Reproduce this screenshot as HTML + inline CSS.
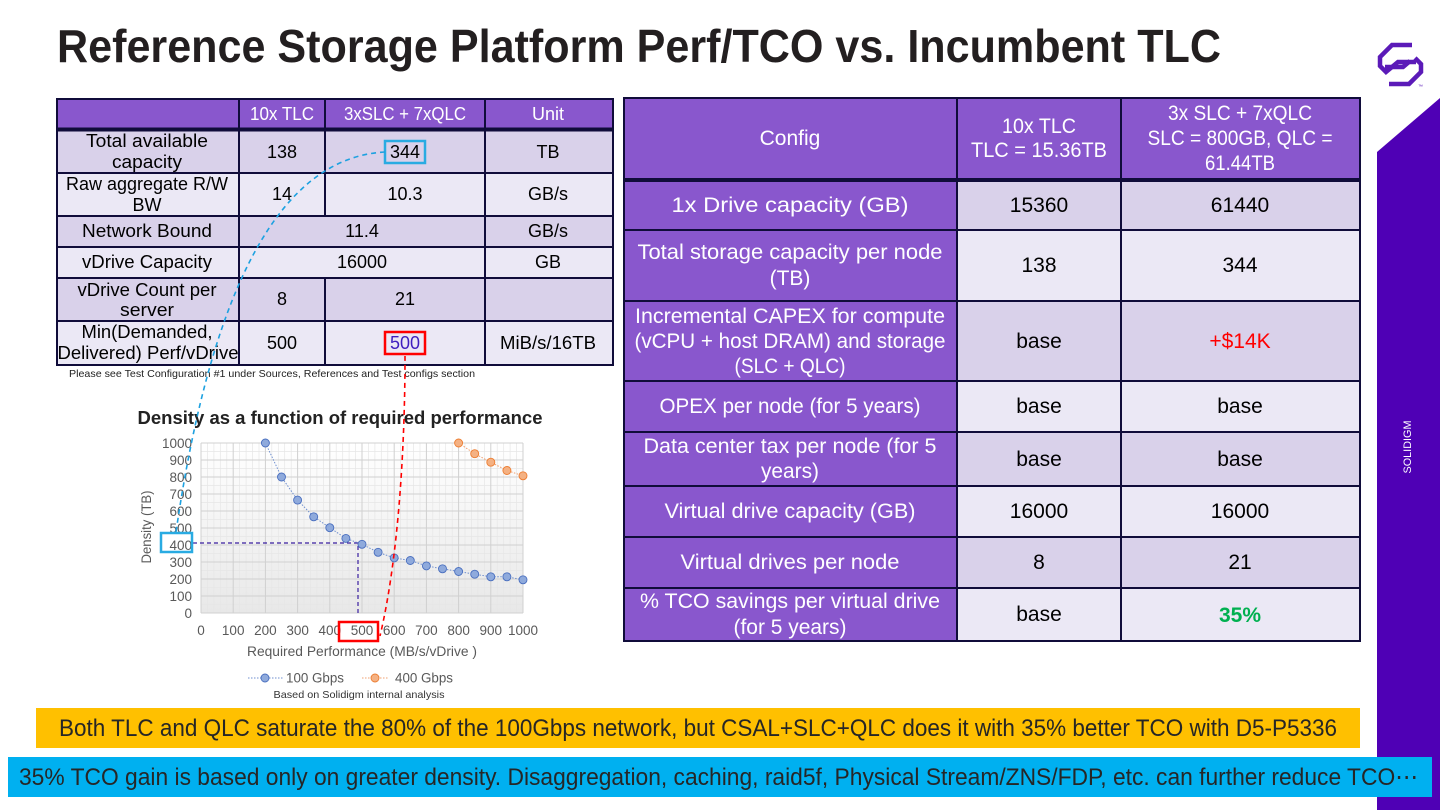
<!DOCTYPE html>
<html><head><meta charset="utf-8"><style>
html,body{margin:0;padding:0;background:#fff;}
svg{display:block;}
text{font-family:"Liberation Sans",sans-serif;}
.w{fill:#fff;}
.rt{font-size:21px;text-anchor:middle;}
.lt{font-size:18px;text-anchor:middle;}
.ax{font-size:13.5px;fill:#595959;}
</style></head><body>
<svg width="1440" height="810" viewBox="0 0 1440 810" xmlns="http://www.w3.org/2000/svg">
<defs>
<linearGradient id="pg" x1="0" y1="0" x2="0" y2="1">
<stop offset="0" stop-color="#ffffff"/><stop offset="1" stop-color="#e8e8e8"/>
</linearGradient>
</defs>
<rect width="1440" height="810" fill="#fff"/>

<!-- Title -->
<text x="57" y="62" font-size="46" font-weight="bold" fill="#231f20" textLength="1164" lengthAdjust="spacingAndGlyphs">Reference Storage Platform Perf/TCO vs. Incumbent TLC</text>

<!-- Purple band & logo -->
<polygon points="1377,152 1440,98 1440,810 1377,810" fill="#4f00b5"/>
<g fill="none" stroke="#5b1ab8" stroke-width="4.5" stroke-linejoin="miter">
<path d="M1412,45 L1392,45 L1380,57 L1380,66 L1386,72 L1398,62 L1416,62"/>
<path d="M1389,84 L1409,84 L1421,72 L1421,64 L1415,58"/>
<path d="M1385,67 L1403,67 L1410,61"/>
</g>
<text x="1418" y="88" font-size="5" fill="#5b1ab8">™</text>
<text transform="translate(1411,447) rotate(-90)" font-size="11" class="w" text-anchor="middle" textLength="53" lengthAdjust="spacingAndGlyphs">SOLIDIGM</text>

<!-- LEFT TABLE -->
<g>
<rect x="57" y="99" width="556" height="30" fill="#8957cd"/>
<rect x="57" y="129" width="556" height="44" fill="#d9d1ea"/>
<rect x="57" y="173" width="556" height="43" fill="#ebe8f5"/>
<rect x="57" y="216" width="556" height="31" fill="#d9d1ea"/>
<rect x="57" y="247" width="556" height="31" fill="#ebe8f5"/>
<rect x="57" y="278" width="556" height="43" fill="#d9d1ea"/>
<rect x="57" y="321" width="556" height="44" fill="#ebe8f5"/>
<g stroke="#100c3a" stroke-width="2" fill="none">
<rect x="57" y="99" width="556" height="266"/>
<line x1="57" y1="173" x2="613" y2="173"/>
<line x1="57" y1="216" x2="613" y2="216"/>
<line x1="57" y1="247" x2="613" y2="247"/>
<line x1="57" y1="278" x2="613" y2="278"/>
<line x1="57" y1="321" x2="613" y2="321"/>
<line x1="239" y1="99" x2="239" y2="365"/>
<line x1="325" y1="99" x2="325" y2="216"/>
<line x1="325" y1="278" x2="325" y2="365"/>
<line x1="485" y1="99" x2="485" y2="365"/>
</g>
<line x1="57" y1="129.5" x2="613" y2="129.5" stroke="#100c3a" stroke-width="4"/>
<text class="lt w" x="282" y="120" textLength="64" lengthAdjust="spacingAndGlyphs">10x TLC</text>
<text class="lt w" x="405" y="120" textLength="122" lengthAdjust="spacingAndGlyphs">3xSLC + 7xQLC</text>
<text class="lt w" x="548" y="120">Unit</text>

<text class="lt" x="147" y="147" textLength="122" lengthAdjust="spacingAndGlyphs">Total available</text>
<text class="lt" x="147" y="168" textLength="70" lengthAdjust="spacingAndGlyphs">capacity</text>
<text class="lt" x="282" y="158">138</text>
<text class="lt" x="405" y="158">344</text>
<text class="lt" x="548" y="158">TB</text>

<text class="lt" x="147" y="190" textLength="162" lengthAdjust="spacingAndGlyphs">Raw aggregate R/W</text>
<text class="lt" x="147" y="211">BW</text>
<text class="lt" x="282" y="200">14</text>
<text class="lt" x="405" y="200">10.3</text>
<text class="lt" x="548" y="200">GB/s</text>

<text class="lt" x="147" y="237" textLength="130" lengthAdjust="spacingAndGlyphs">Network Bound</text>
<text class="lt" x="362" y="237">11.4</text>
<text class="lt" x="548" y="237">GB/s</text>

<text class="lt" x="147" y="268" textLength="130" lengthAdjust="spacingAndGlyphs">vDrive Capacity</text>
<text class="lt" x="362" y="268">16000</text>
<text class="lt" x="548" y="268">GB</text>

<text class="lt" x="147" y="296" textLength="139" lengthAdjust="spacingAndGlyphs">vDrive Count per</text>
<text class="lt" x="147" y="316" textLength="54" lengthAdjust="spacingAndGlyphs">server</text>
<text class="lt" x="282" y="305">8</text>
<text class="lt" x="405" y="305">21</text>

<text class="lt" x="147" y="338" textLength="131" lengthAdjust="spacingAndGlyphs">Min(Demanded,</text>
<text class="lt" x="148" y="359" textLength="181" lengthAdjust="spacingAndGlyphs">Delivered) Perf/vDrive</text>
<text class="lt" x="282" y="349">500</text>
<text class="lt" x="405" y="349" fill="#3f1fbf">500</text>
<text class="lt" x="548" y="349" textLength="96" lengthAdjust="spacingAndGlyphs">MiB/s/16TB</text>

<rect x="385" y="141" width="40" height="22" fill="none" stroke="#29abe2" stroke-width="2.5"/>
<rect x="385" y="332" width="40" height="22" fill="none" stroke="#ff0000" stroke-width="2.5"/>
<text x="69" y="377" font-size="10.5" fill="#222" textLength="406" lengthAdjust="spacingAndGlyphs">Please see Test Configuration #1 under Sources, References and Test configs section</text>
</g>

<!-- RIGHT TABLE -->
<g>
<rect x="624" y="98" width="736" height="82" fill="#8957cd"/>
<rect x="624" y="180" width="333" height="461" fill="#8957cd"/>
<rect x="957" y="180" width="403" height="50" fill="#d9d1ea"/>
<rect x="957" y="230" width="403" height="71" fill="#ebe8f5"/>
<rect x="957" y="301" width="403" height="80" fill="#d9d1ea"/>
<rect x="957" y="381" width="403" height="51" fill="#ebe8f5"/>
<rect x="957" y="432" width="403" height="54" fill="#d9d1ea"/>
<rect x="957" y="486" width="403" height="51" fill="#ebe8f5"/>
<rect x="957" y="537" width="403" height="51" fill="#d9d1ea"/>
<rect x="957" y="588" width="403" height="53" fill="#ebe8f5"/>
<g stroke="#100c3a" stroke-width="2" fill="none">
<rect x="624" y="98" width="736" height="543"/>
<line x1="624" y1="230" x2="1360" y2="230"/>
<line x1="624" y1="301" x2="1360" y2="301"/>
<line x1="624" y1="381" x2="1360" y2="381"/>
<line x1="624" y1="432" x2="1360" y2="432"/>
<line x1="624" y1="486" x2="1360" y2="486"/>
<line x1="624" y1="537" x2="1360" y2="537"/>
<line x1="624" y1="588" x2="1360" y2="588"/>
<line x1="957" y1="98" x2="957" y2="641"/>
<line x1="1121" y1="98" x2="1121" y2="641"/>
</g>
<line x1="624" y1="180" x2="1360" y2="180" stroke="#100c3a" stroke-width="4"/>

<text class="rt w" x="790" y="145">Config</text>
<text class="rt w" x="1039" y="133" textLength="74" lengthAdjust="spacingAndGlyphs">10x TLC</text>
<text class="rt w" x="1039" y="157" textLength="136" lengthAdjust="spacingAndGlyphs">TLC = 15.36TB</text>
<text class="rt w" x="1240" y="120" textLength="144" lengthAdjust="spacingAndGlyphs">3x SLC + 7xQLC</text>
<text class="rt w" x="1240" y="145" textLength="185" lengthAdjust="spacingAndGlyphs">SLC = 800GB, QLC =</text>
<text class="rt w" x="1240" y="170" textLength="70" lengthAdjust="spacingAndGlyphs">61.44TB</text>

<text class="rt w" x="790" y="212" textLength="237" lengthAdjust="spacingAndGlyphs">1x Drive capacity (GB)</text>
<text class="rt" x="1039" y="212">15360</text>
<text class="rt" x="1240" y="212">61440</text>

<text class="rt w" x="790" y="259" textLength="305" lengthAdjust="spacingAndGlyphs">Total storage capacity per node</text>
<text class="rt w" x="790" y="285">(TB)</text>
<text class="rt" x="1039" y="272">138</text>
<text class="rt" x="1240" y="272">344</text>

<text class="rt w" x="790" y="323" textLength="310" lengthAdjust="spacingAndGlyphs">Incremental CAPEX for compute</text>
<text class="rt w" x="790" y="348" textLength="311" lengthAdjust="spacingAndGlyphs">(vCPU + host DRAM) and storage</text>
<text class="rt w" x="790" y="373" textLength="111" lengthAdjust="spacingAndGlyphs">(SLC + QLC)</text>
<text class="rt" x="1039" y="348">base</text>
<text class="rt" x="1240" y="348" fill="#ff0000">+$14K</text>

<text class="rt w" x="790" y="413" textLength="261" lengthAdjust="spacingAndGlyphs">OPEX per node (for 5 years)</text>
<text class="rt" x="1039" y="413">base</text>
<text class="rt" x="1240" y="413">base</text>

<text class="rt w" x="790" y="453" textLength="293" lengthAdjust="spacingAndGlyphs">Data center tax per node (for 5</text>
<text class="rt w" x="790" y="478" textLength="58" lengthAdjust="spacingAndGlyphs">years)</text>
<text class="rt" x="1039" y="466">base</text>
<text class="rt" x="1240" y="466">base</text>

<text class="rt w" x="790" y="518" textLength="251" lengthAdjust="spacingAndGlyphs">Virtual drive capacity (GB)</text>
<text class="rt" x="1039" y="518">16000</text>
<text class="rt" x="1240" y="518">16000</text>

<text class="rt w" x="790" y="569" textLength="219" lengthAdjust="spacingAndGlyphs">Virtual drives per node</text>
<text class="rt" x="1039" y="569">8</text>
<text class="rt" x="1240" y="569">21</text>

<text class="rt w" x="790" y="608" textLength="300" lengthAdjust="spacingAndGlyphs">% TCO savings per virtual drive</text>
<text class="rt w" x="790" y="634" textLength="113" lengthAdjust="spacingAndGlyphs">(for 5 years)</text>
<text class="rt" x="1039" y="621">base</text>
<text class="rt" x="1240" y="622" fill="#00b050" font-weight="bold">35%</text>
</g>

<!-- CHART -->
<g>
<text x="340" y="424" font-size="18.5" font-weight="bold" fill="#222" text-anchor="middle" textLength="405" lengthAdjust="spacingAndGlyphs">Density as a function of required performance</text>
<rect x="201" y="443" width="322" height="170" fill="url(#pg)"/>
<g stroke="#e6e6e6" stroke-width="0.7">
<path d="M207.4,443V613M213.9,443V613M220.3,443V613M226.8,443V613M239.6,443V613M246.1,443V613M252.5,443V613M259,443V613M271.8,443V613M278.3,443V613M284.7,443V613M291.2,443V613M304,443V613M310.5,443V613M316.9,443V613M323.4,443V613M336.2,443V613M342.7,443V613M349.1,443V613M355.6,443V613M368.4,443V613M374.9,443V613M381.3,443V613M387.8,443V613M400.6,443V613M407.1,443V613M413.5,443V613M420,443V613M432.8,443V613M439.3,443V613M445.7,443V613M452.2,443V613M465,443V613M471.5,443V613M477.9,443V613M484.4,443V613M497.2,443V613M503.7,443V613M510.1,443V613M516.6,443V613"/>
<path d="M201,604.5H523M201,587.5H523M201,570.5H523M201,553.5H523M201,536.5H523M201,519.5H523M201,502.5H523M201,485.5H523M201,468.5H523M201,451.5H523"/>
</g>
<g stroke="#d0d0d0" stroke-width="1">
<path d="M201,443V613M233.2,443V613M265.4,443V613M297.6,443V613M329.8,443V613M362,443V613M394.2,443V613M426.4,443V613M458.6,443V613M490.8,443V613M523,443V613"/>
<path d="M201,443H523M201,460H523M201,477H523M201,494H523M201,511H523M201,528H523M201,545H523M201,562H523M201,579H523M201,596H523M201,613H523"/>
</g>
<g text-anchor="end">
<text x="192" y="448" class="ax">1000</text>
<text x="192" y="465" class="ax">900</text>
<text x="192" y="482" class="ax">800</text>
<text x="192" y="499" class="ax">700</text>
<text x="192" y="516" class="ax">600</text>
<text x="192" y="533" class="ax">500</text>
<text x="192" y="550" class="ax">400</text>
<text x="192" y="567" class="ax">300</text>
<text x="192" y="584" class="ax">200</text>
<text x="192" y="601" class="ax">100</text>
<text x="192" y="618" class="ax">0</text>
</g>
<g text-anchor="middle">
<text x="201" y="635" class="ax">0</text>
<text x="233.2" y="635" class="ax">100</text>
<text x="265.4" y="635" class="ax">200</text>
<text x="297.6" y="635" class="ax">300</text>
<text x="329.8" y="635" class="ax">400</text>
<text x="362" y="635" class="ax">500</text>
<text x="394.2" y="635" class="ax">600</text>
<text x="426.4" y="635" class="ax">700</text>
<text x="458.6" y="635" class="ax">800</text>
<text x="490.8" y="635" class="ax">900</text>
<text x="523" y="635" class="ax">1000</text>
</g>
<text x="362" y="656" font-size="13.5" fill="#595959" text-anchor="middle" textLength="230" lengthAdjust="spacingAndGlyphs">Required Performance (MB/s/vDrive )</text>
<text transform="translate(151,527) rotate(-90)" font-size="13.5" fill="#595959" text-anchor="middle" textLength="73" lengthAdjust="spacingAndGlyphs">Density (TB)</text>

<!-- annotation dashed purple -->
<path d="M193,543H358V613" fill="none" stroke="#3a1fa0" stroke-width="1.2" stroke-dasharray="4,3"/>

<!-- series -->
<polyline fill="none" stroke="#6f8fcf" stroke-width="1" stroke-dasharray="1.5,1.5" points="265.4,443 281.5,477 297.6,500.1 313.7,516.8 329.8,527.7 345.9,538.4 362,544.3 378.1,552.3 394.2,557.9 410.3,560.5 426.4,565.9 442.5,568.8 458.6,571.5 474.7,574.2 490.8,576.8 506.9,576.8 523,579.8"/>
<g fill="#8faadc" stroke="#4a6fbf" stroke-width="0.9">
<circle cx="265.4" cy="443" r="4"/><circle cx="281.5" cy="477" r="4"/><circle cx="297.6" cy="500.1" r="4"/><circle cx="313.7" cy="516.8" r="4"/><circle cx="329.8" cy="527.7" r="4"/><circle cx="345.9" cy="538.4" r="4"/><circle cx="362" cy="544.3" r="4"/><circle cx="378.1" cy="552.3" r="4"/><circle cx="394.2" cy="557.9" r="4"/><circle cx="410.3" cy="560.5" r="4"/><circle cx="426.4" cy="565.9" r="4"/><circle cx="442.5" cy="568.8" r="4"/><circle cx="458.6" cy="571.5" r="4"/><circle cx="474.7" cy="574.2" r="4"/><circle cx="490.8" cy="576.8" r="4"/><circle cx="506.9" cy="576.8" r="4"/><circle cx="523" cy="579.8" r="4"/>
</g>
<polyline fill="none" stroke="#f0a070" stroke-width="1" stroke-dasharray="1.5,1.5" points="458.6,443 474.7,453.7 490.8,462.2 506.9,470.5 523,475.8"/>
<g fill="#f4b183" stroke="#ed7d31" stroke-width="0.9">
<circle cx="458.6" cy="443" r="4"/><circle cx="474.7" cy="453.7" r="4"/><circle cx="490.8" cy="462.2" r="4"/><circle cx="506.9" cy="470.5" r="4"/><circle cx="523" cy="475.8" r="4"/>
</g>

<!-- legend -->
<line x1="248" y1="678" x2="283" y2="678" stroke="#6f8fcf" stroke-width="1" stroke-dasharray="1.5,1.5"/>
<circle cx="265" cy="678" r="4" fill="#8faadc" stroke="#4a6fbf" stroke-width="0.9"/>
<text x="286" y="682.5" class="ax" textLength="58" lengthAdjust="spacingAndGlyphs">100 Gbps</text>
<line x1="362" y1="678" x2="389" y2="678" stroke="#f0a070" stroke-width="1" stroke-dasharray="1.5,1.5"/>
<circle cx="375" cy="678" r="4" fill="#f4b183" stroke="#ed7d31" stroke-width="0.9"/>
<text x="395" y="682.5" class="ax" textLength="58" lengthAdjust="spacingAndGlyphs">400 Gbps</text>
<text x="359" y="698" font-size="10.5" fill="#333" text-anchor="middle" textLength="171" lengthAdjust="spacingAndGlyphs">Based on Solidigm internal analysis</text>

<!-- boxes on axis labels -->
<rect x="161" y="533" width="31" height="19" fill="none" stroke="#29abe2" stroke-width="2.5"/>
<rect x="339" y="622" width="39" height="19" fill="none" stroke="#ff0000" stroke-width="2.5"/>
</g>

<!-- connecting dashed curves -->
<path d="M385,152 Q230,160 176,532" fill="none" stroke="#1da1e0" stroke-width="1.6" stroke-dasharray="5,4"/>
<path d="M405,356 C405,450 398,560 380,636" fill="none" stroke="#ff0000" stroke-width="1.6" stroke-dasharray="5,4"/>

<!-- bottom bands -->
<rect x="36" y="708" width="1324" height="40" fill="#ffc000"/>
<text x="59" y="736" font-size="24" fill="#262626" textLength="1278" lengthAdjust="spacingAndGlyphs">Both TLC and QLC saturate the 80% of the 100Gbps network, but CSAL+SLC+QLC does it with 35% better TCO with D5-P5336</text>
<rect x="8" y="757" width="1424" height="40" fill="#00b0f0"/>
<text x="19" y="785" font-size="24" fill="#262626" textLength="1399" lengthAdjust="spacingAndGlyphs">35% TCO gain is based only on greater density. Disaggregation, caching, raid5f, Physical Stream/ZNS/FDP, etc. can further reduce TCO⋯</text>
</svg>
</body></html>
